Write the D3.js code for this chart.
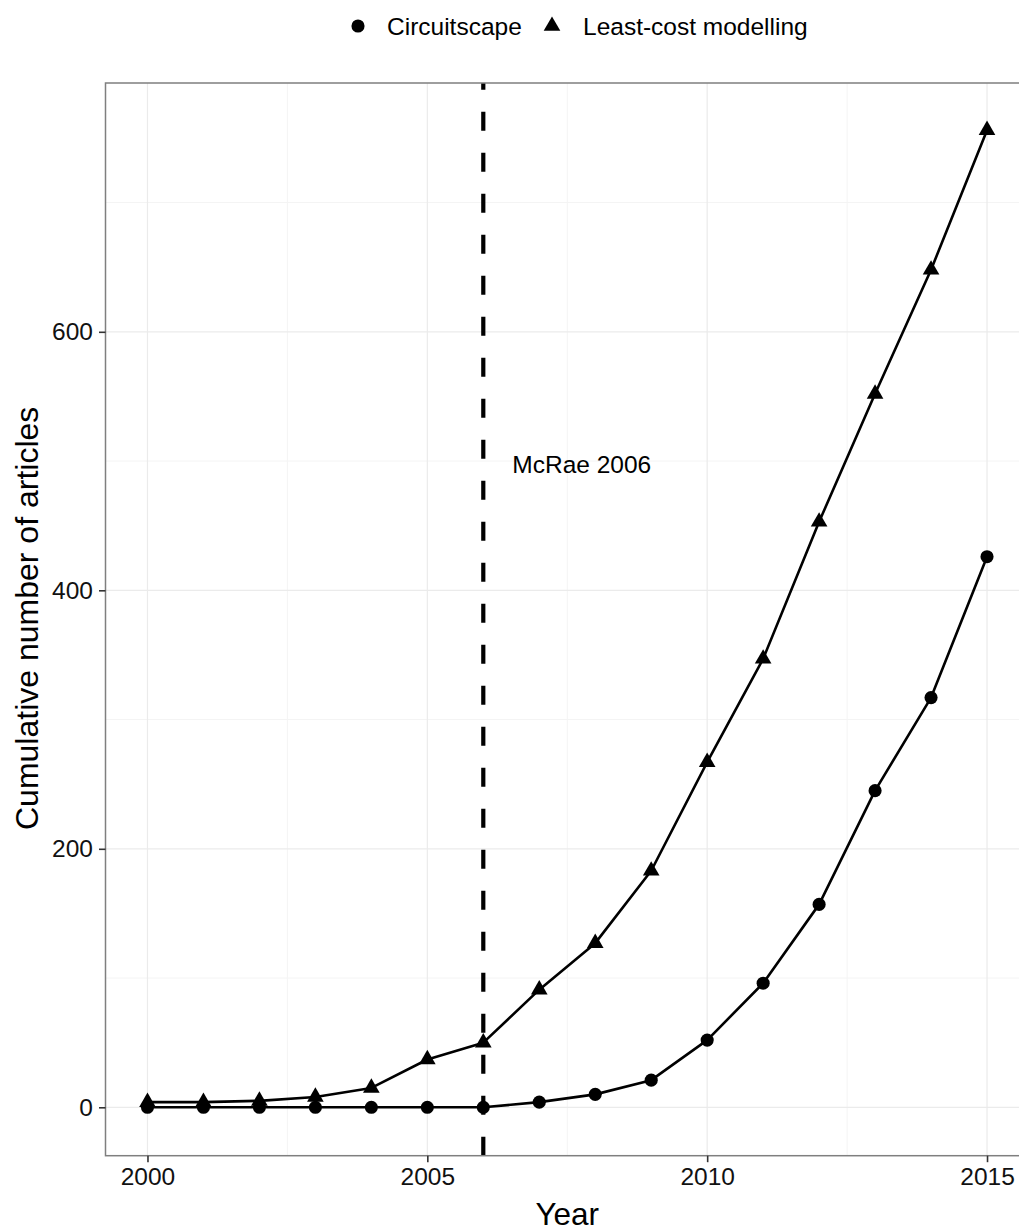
<!DOCTYPE html>
<html>
<head>
<meta charset="utf-8">
<script src="https://cdn.jsdelivr.net/npm/d3@7"></script>
<style>
  body { margin: 0; background: #fff; }
  text { font-family: "Liberation Sans", Arial, sans-serif; }
</style>
</head>
<body>
<div id="chart"></div>
<script>
// data
let years = [2000, 2001, 2002, 2003, 2004, 2005, 2006, 2007, 2008, 2009, 2010, 2011, 2012, 2013, 2014, 2015];
let circuitscape = [0, 0, 0, 0, 0, 0, 0, 4, 10, 21, 52, 96, 157, 245, 317, 426];
let leastCost = [4, 4, 5, 8, 15, 37, 50, 91, 127, 183, 267, 347, 453, 552, 648, 756];
let seriesNames = ['Circuitscape', 'Least-cost modelling'];
let xTicks = [2000, 2005, 2010, 2015];
let xMinor = [2002.5, 2007.5, 2012.5];
let yTicks = [0, 200, 400, 600];
let yMinor = [100, 300, 500, 700];
let markerYear = 2006;
let noteText = 'McRae 2006';
let notePos = [2007.76, 497];

let width = 1019, height = 1231;
let pLeft = 105.5, pRight = 1029, pTop = 83, pBottom = 1155.7;

let svg = d3.select('#chart').append('svg')
    .attr('width', width).attr('height', height);

let x = d3.scaleLinear().domain([1999.25, 2015.75]).range([pLeft, pRight]);
let y = d3.scaleLinear().domain([-37.45, 792.5]).range([pBottom, pTop]);

// grid
let grid = svg.append('g');
grid.selectAll('.ym').data(yMinor).enter().append('line')
    .attr('x1', pLeft).attr('x2', pRight)
    .attr('y1', d => y(d)).attr('y2', d => y(d))
    .attr('stroke', '#f4f4f4').attr('stroke-width', 1);
grid.selectAll('.xm').data(xMinor).enter().append('line')
    .attr('y1', pTop).attr('y2', pBottom)
    .attr('x1', d => x(d)).attr('x2', d => x(d))
    .attr('stroke', '#f4f4f4').attr('stroke-width', 1);
grid.selectAll('.yM').data(yTicks).enter().append('line')
    .attr('x1', pLeft).attr('x2', pRight)
    .attr('y1', d => y(d)).attr('y2', d => y(d))
    .attr('stroke', '#ebebeb').attr('stroke-width', 1.2);
grid.selectAll('.xM').data(xTicks).enter().append('line')
    .attr('y1', pTop).attr('y2', pBottom)
    .attr('x1', d => x(d)).attr('x2', d => x(d))
    .attr('stroke', '#ebebeb').attr('stroke-width', 1.2);

// series
let series = [
    { name: seriesNames[0], values: circuitscape, shape: d3.symbolCircle, size: 135 },
    { name: seriesNames[1], values: leastCost, shape: d3.symbolTriangle, size: 120 }
];
let line = d3.line().x(d => x(d[0])).y(d => y(d[1]));

series.forEach(s => {
    let pts = years.map((yr, i) => [yr, s.values[i]]);
    svg.append('path')
        .attr('d', line(pts))
        .attr('fill', 'none').attr('stroke', '#000').attr('stroke-width', 2.6)
        .attr('stroke-linejoin', 'round');
    svg.append('g').selectAll('path').data(pts).enter().append('path')
        .attr('d', d3.symbol().type(s.shape).size(s.size))
        .attr('transform', d => 'translate(' + x(d[0]) + ',' + y(d[1]) + ')')
        .attr('fill', '#000');
});

// dashed reference line, drawn from the bottom up
svg.append('line')
    .attr('x1', x(markerYear)).attr('x2', x(markerYear))
    .attr('y1', pBottom).attr('y2', pTop)
    .attr('stroke', '#000').attr('stroke-width', 4.2)
    .attr('stroke-dasharray', '19,22');

svg.append('text')
    .attr('x', x(notePos[0])).attr('y', y(notePos[1]))
    .attr('text-anchor', 'middle').attr('dominant-baseline', 'central')
    .attr('font-size', 24.5).attr('fill', '#000')
    .text(noteText);

// panel border
svg.append('rect')
    .attr('x', pLeft).attr('y', pTop)
    .attr('width', pRight - pLeft).attr('height', pBottom - pTop)
    .attr('fill', 'none').attr('stroke', '#7f7f7f').attr('stroke-width', 1.5);

// axes
let xAxis = svg.append('g')
    .attr('transform', 'translate(0,' + pBottom + ')')
    .call(d3.axisBottom(x).tickValues(xTicks).tickFormat(d3.format('d')).tickSize(6.5).tickPadding(5));
let yAxis = svg.append('g')
    .attr('transform', 'translate(' + pLeft + ',0)')
    .call(d3.axisLeft(y).tickValues(yTicks).tickSize(6.5).tickPadding(6));
[xAxis, yAxis].forEach(a => {
    a.select('.domain').remove();
    a.selectAll('.tick line').attr('stroke', '#333').attr('stroke-width', 1.6);
    a.selectAll('.tick text').attr('font-size', 24.5).attr('fill', '#111')
        .attr('font-family', '"Liberation Sans", Arial, sans-serif');
});

svg.append('text')
    .attr('x', (pLeft + pRight) / 2).attr('y', 1225)
    .attr('text-anchor', 'middle').attr('font-size', 31.5).attr('fill', '#000')
    .text('Year');
svg.append('text')
    .attr('transform', 'translate(38,' + ((pTop + pBottom) / 2 - 1) + ') rotate(-90)')
    .attr('text-anchor', 'middle').attr('font-size', 32).attr('fill', '#000')
    .text('Cumulative number of articles');

// legend
let legend = svg.append('g');
let legendItems = [
    { name: seriesNames[0], shape: d3.symbolCircle, size: 135, sx: 358, tx: 387 },
    { name: seriesNames[1], shape: d3.symbolTriangle, size: 120, sx: 552, tx: 583 }
];
legendItems.forEach(it => {
    legend.append('path')
        .attr('d', d3.symbol().type(it.shape).size(it.size))
        .attr('transform', 'translate(' + it.sx + ',26)')
        .attr('fill', '#000');
    legend.append('text')
        .attr('x', it.tx).attr('y', 35)
        .attr('font-size', 24.5).attr('fill', '#000')
        .text(it.name);
});
</script>
</body>
</html>
